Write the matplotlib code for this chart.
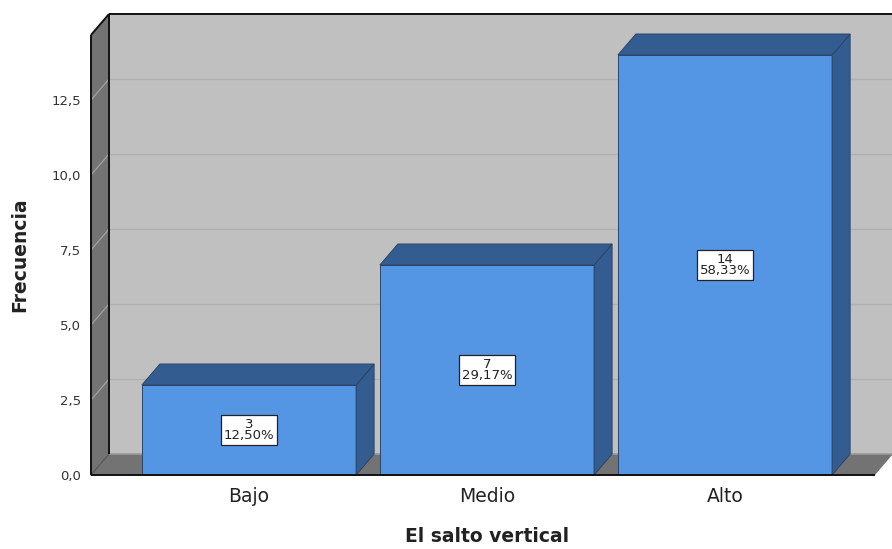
import numpy as np
import matplotlib.pyplot as plt
from matplotlib.patches import Polygon

# Frequency table for "El salto vertical"
categorias = ['Bajo', 'Medio', 'Alto']
frecuencias = [3, 7, 14]
porcentajes = [12.50, 29.17, 58.33]
yticks = [0, 2.5, 5.0, 7.5, 10.0, 12.5]

front = '#5596e4'
shade = '#335d90'
edge = '#2b4568'
wall = '#c0c0c0'
side = '#737373'

fig = plt.figure(figsize=(8.92, 5.49), dpi=100)
ax = fig.add_axes([91 / 892, 74 / 549, 784 / 892, 440 / 549])

px_x = 238.0          # pixels per category step
px_y = 30.0           # pixels per frequency unit
x0, x1 = -158 / px_x, 626 / px_x
y0, y1 = 0, 440 / px_y
ax.set_xlim(x0, x1)
ax.set_ylim(y0, y1)

dx = 18 / px_x        # depth offset, horizontal
dy = 21 / px_y        # depth offset, vertical
xr = x1 + 18 / px_x   # right end of the floor/back wall

def poly(pts, fc, ec='none', lw=0.0, z=1):
    ax.add_patch(Polygon(pts, closed=True, facecolor=fc, edgecolor=ec,
                         linewidth=lw, zorder=z, clip_on=False))

# back wall, floor and left wall
poly([(x0 + dx, dy), (xr, dy), (xr, y1 + dy), (x0 + dx, y1 + dy)], wall, z=0)
poly([(x0, 0), (x1, 0), (xr, dy), (x0 + dx, dy)], side, z=1)
poly([(x0, 0), (x0 + dx, dy), (x0 + dx, y1 + dy), (x0, y1)], side, z=1)
ax.plot([x0 + dx, xr], [dy, dy], color='#9a9a9a', lw=1.2, zorder=1, clip_on=False)

# gridlines on the back wall and the left wall
for t in yticks[1:]:
    ax.plot([x0 + dx, xr], [t + dy, t + dy], color='#b0b0b0', lw=0.9, zorder=1, clip_on=False)
    ax.plot([x0, x0 + dx], [t, t + dy], color='#a0a0a0', lw=0.9, zorder=2, clip_on=False)

# frame edges
k = dict(color='#111111', lw=1.4, zorder=6, clip_on=False, solid_capstyle='butt')
ax.plot([x0, x0], [0, y1], **k)
ax.plot([x0, x1], [0, 0], **k)
ax.plot([x0, x0 + dx], [y1, y1 + dy], **k)
ax.plot([x0 + dx, xr], [y1 + dy, y1 + dy], **k)
ax.plot([x0 + dx, x0 + dx], [dy, y1 + dy], **k)
ax.plot([x0, x0 + dx], [0, dy], color='#555555', lw=0.8, zorder=2, clip_on=False)

# 3D bars
w = 0.9
for i, (v, p) in enumerate(zip(frecuencias, porcentajes)):
    l, r = i - w / 2, i + w / 2
    poly([(l, 0), (r, 0), (r, v), (l, v)], front, edge, 0.7, 3)
    poly([(r, 0), (r + dx, dy), (r + dx, v + dy), (r, v)], shade, edge, 0.7, 3)
    poly([(l, v), (r, v), (r + dx, v + dy), (l + dx, v + dy)], shade, edge, 0.7, 3)
    etiqueta = f'{v}\n{p:.2f}%'.replace('.', ',')
    ax.text(i, v / 2, etiqueta, ha='center', va='center', fontsize=9.5,
            linespacing=0.85, color='#222222', zorder=7,
            bbox=dict(boxstyle='square,pad=0.2', fc='white', ec='#222222', lw=0.9))

for s in ax.spines.values():
    s.set_visible(False)
ax.set_facecolor('none')

ax.set_yticks(yticks)
ax.set_yticklabels([f'{t:.1f}'.replace('.', ',') for t in yticks], fontsize=9.5, color='#333333')
ax.set_xticks(range(len(categorias)))
ax.set_xticklabels(categorias, fontsize=13.5, color='#222222')
ax.tick_params(axis='y', length=0, pad=7)
ax.tick_params(axis='x', length=0, pad=9)

fig.text(20 / 892, 1 - 255 / 549, 'Frecuencia', rotation=90, ha='center', va='center',
         fontsize=13.5, fontweight='bold', color='#222222')
fig.text(487 / 892, 1 - 537 / 549, 'El salto vertical', ha='center', va='center',
         fontsize=13.5, fontweight='bold', color='#222222')

fig.savefig('out.png', dpi=100)
